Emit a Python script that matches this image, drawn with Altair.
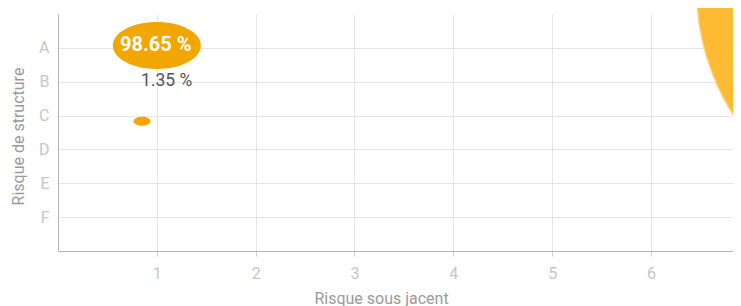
import altair as alt
import pandas as pd

# Bubbles
bubble_x = [8.8, 1.0, 0.85]
bubble_y = [-0.71, 0.93, 3.17]
bubble_weight = [213444, 7744, 289]
bubble_group = ["big", "main", "small"]

# Labels
label_text_main = ["98.65 %"]
label_x_main = [0.99]
label_y_main = [0.92]
label_text_sub = ["1.35 %"]
label_x_sub = [1.10]
label_y_sub = [1.98]

x_ticks = [1, 2, 3, 4, 5, 6]
y_ticks = [1, 2, 3, 4, 5, 6]
y_letters = ["", "A", "B", "C", "D", "E", "F"]

FONT = "Roboto"
ELLIPSE = "M -1 0 A 1 0.534 0 1 0 1 0 A 1 0.534 0 1 0 -1 0 Z"

bubbles = pd.DataFrame({"x": bubble_x, "y": bubble_y, "w": bubble_weight, "g": bubble_group})
main_lbl = pd.DataFrame({"x": label_x_main, "y": label_y_main, "t": label_text_main})
sub_lbl = pd.DataFrame({"x": label_x_sub, "y": label_y_sub, "t": label_text_sub})

letters_js = "[" + ",".join("'%s'" % l for l in y_letters) + "]"

x_enc = alt.X(
    "x:Q",
    scale=alt.Scale(domain=[0, 6.83], nice=False, zero=False),
    axis=alt.Axis(
        values=x_ticks, format="d", title="Risque sous jacent", grid=True, gridColor="#e4e4e4",
        domainColor="#b4b4b4", tickColor="#d0d0d0", tickSize=5, labelPadding=9,
        labelColor="#c6c6c6", labelFontSize=16, labelFont=FONT,
        titleColor="#9a9a9a", titleFontSize=16, titleFont=FONT, titleFontWeight="normal",
        titleX=323, titleY=52, titleAlign="center", titleBaseline="alphabetic",
    ),
)
y_enc = alt.Y(
    "y:Q",
    scale=alt.Scale(domain=[0, 7], nice=False, zero=False, reverse=True),
    axis=alt.Axis(
        values=y_ticks, labelExpr=letters_js + "[datum.value]", title="Risque de structure",
        grid=True, gridColor="#e4e4e4", domainColor="#b4b4b4", ticks=False, tickSize=0,
        labelPadding=9, labelColor="#c6c6c6", labelFontSize=16, labelFont=FONT,
        titleColor="#9a9a9a", titleFontSize=16, titleFont=FONT, titleFontWeight="normal",
        titleX=-35, titleY=122, titleAlign="center", titleBaseline="alphabetic", titleAngle=270,
    ),
)

big = alt.Chart(bubbles).transform_filter("datum.g == 'big'").mark_point(
    shape="circle", filled=True, fill="#fcbb32", stroke="#fdd27a", strokeWidth=1.5, opacity=1
).encode(x=x_enc, y=y_enc, size=alt.Size("w:Q", scale=None, legend=None))

small = alt.Chart(bubbles).transform_filter("datum.g != 'big'").mark_point(
    shape=ELLIPSE, filled=True, fill="#f2a700", opacity=1, strokeWidth=0
).encode(x="x:Q", y="y:Q", size=alt.Size("w:Q", scale=None, legend=None))

t_main = alt.Chart(main_lbl).mark_text(
    font=FONT, fontSize=20, fontWeight="bold", color="#ffffff", align="center", baseline="middle"
).encode(x="x:Q", y="y:Q", text="t:N")

t_sub = alt.Chart(sub_lbl).mark_text(
    font=FONT, fontSize=17.5, color="#555555", align="center", baseline="middle"
).encode(x="x:Q", y="y:Q", text="t:N")

chart = alt.layer(big, small, t_main, t_sub).properties(
    width=675, height=237,
    autosize=alt.AutoSizeParams(type="none"),
    padding={"left": 50, "top": 6, "right": 0, "bottom": 55},
).configure_view(stroke=None)

chart.save("out.html", embed_options={"renderer": "svg", "actions": False})
